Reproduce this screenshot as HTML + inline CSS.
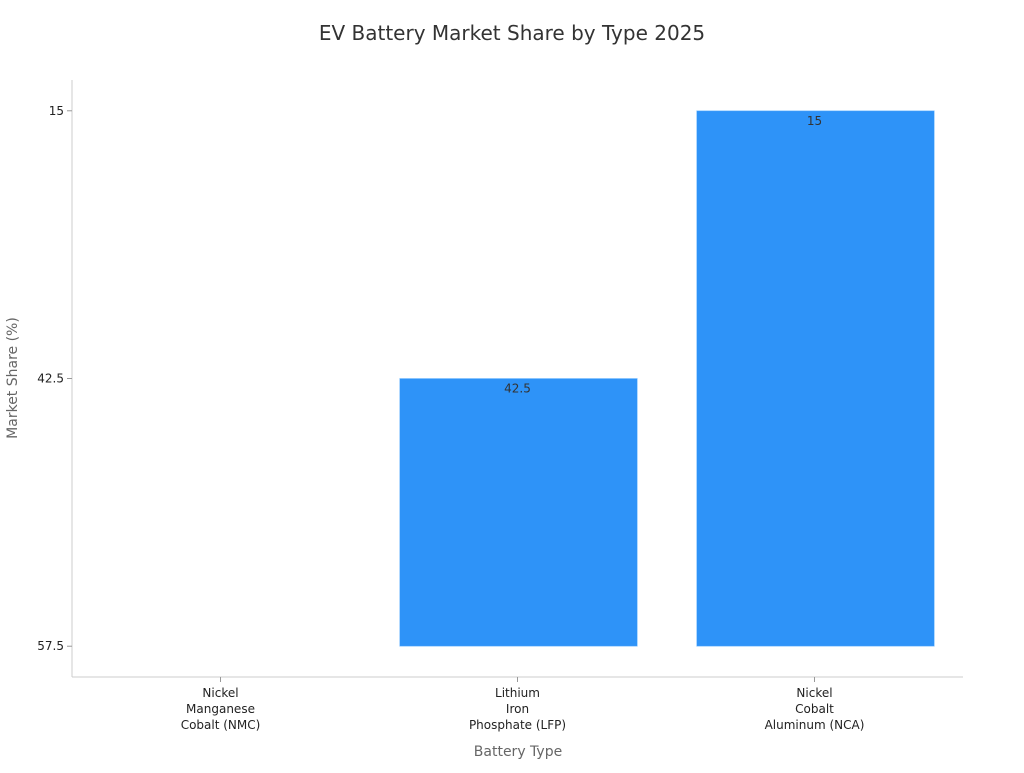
<!DOCTYPE html>
<html><head><meta charset="utf-8"><style>
body{margin:0;background:#fff;font-family:"Liberation Sans","DejaVu Sans",sans-serif;}
svg text{font-family:"DejaVu Sans","Liberation Sans",sans-serif;}
</style></head><body>
<svg id="chart" width="1024" height="768" viewBox="0 0 1024 768">
<text x="512" y="40" text-anchor="middle" font-size="20" fill="#333">EV Battery Market Share by Type 2025</text>
<g id="plot"></g>
<text x="518" y="756" text-anchor="middle" font-size="14" fill="#666">Battery Type</text>
<text transform="translate(17,378) rotate(-90)" text-anchor="middle" font-size="14" fill="#666">Market Share (%)</text>
</svg>
<script>
const categories = [["Nickel","Manganese","Cobalt (NMC)"],["Lithium","Iron","Phosphate (LFP)"],["Nickel","Cobalt","Aluminum (NCA)"]];
const values = [57.5, 42.5, 15];
const yTicks = ["57.5","42.5","15"];

const NS="http://www.w3.org/2000/svg";
const g=document.getElementById('plot');
const L=72,R=963,T=80,B=677;
const ySorted=[...new Set(values)].sort((a,b)=>b-a);
const pad=0.115, yStep=(B-T)/(ySorted.length-1+2*pad);
function y(v){const i=ySorted.indexOf(v);return B-yStep*(pad+i);}
const xStep=(R-L)/categories.length;
function x(i){return L+xStep*(i+0.5);}
const bw=xStep*0.8;
function mk(t,a){const e=document.createElementNS(NS,t);for(const k in a)e.setAttribute(k,a[k]);g.appendChild(e);return e;}
const base=y(ySorted[0]);
values.forEach((v,i)=>{
  const top=y(v);
  const r=mk('rect',{x:x(i)-bw/2+1,y:top,width:bw,height:Math.max(0,base-top),fill:'#2e93f8',stroke:'#7fc0ff','stroke-width':0.6});
  
  
  if(base-top>0){
    const t=mk('text',{x:x(i),y:top+14,'text-anchor':'middle','font-size':12,fill:'#333'});
    t.textContent=String(v);
    
    
  }
});
const ax=mk('line',{x1:L,y1:T,x2:L,y2:B,stroke:'#ccc'});


const bx=mk('line',{x1:L,y1:B,x2:R,y2:B,stroke:'#ccc'});


yTicks.forEach(s=>{
  const yy=y(parseFloat(s));
  mk('line',{x1:L-5,y1:yy,x2:L,y2:yy,stroke:'#999'});
  const t=mk('text',{x:L-8,y:yy+4,'text-anchor':'end','font-size':12,fill:'#222'});
  t.textContent=s;
  
  
});
categories.forEach((c,i)=>{
  mk('line',{x1:x(i),y1:B,x2:x(i),y2:B+5,stroke:'#999'});
  const t=mk('text',{x:x(i),y:B+20,'text-anchor':'middle','font-size':12,fill:'#222'});
  
  
  c.forEach((line,j)=>{const ts=document.createElementNS(NS,'tspan');ts.setAttribute('x',x(i));ts.setAttribute('dy',j?16:0);ts.textContent=line;t.appendChild(ts);});
});
</script>
</body></html>
